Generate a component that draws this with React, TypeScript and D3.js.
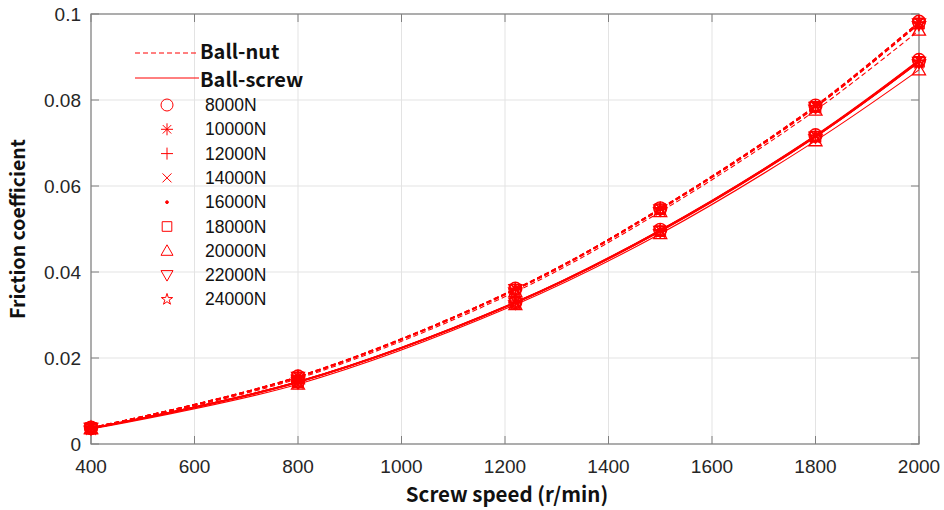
import React from 'react';
import * as d3 from 'd3';

const speeds = [400, 800, 1220, 1500, 1800, 2000];
const loads = ['8000N', '10000N', '12000N', '14000N', '16000N', '18000N', '20000N', '22000N', '24000N'];
const symbolKinds = ['circle', 'asterisk', 'plus', 'cross', 'dot', 'square', 'triangle', 'triangleDown', 'star'];

const nutValues = [
  [0.0038, 0.0157, 0.0361, 0.0548, 0.0787, 0.0982],
  [0.0038, 0.0157, 0.0361, 0.0548, 0.0787, 0.0981],
  [0.0038, 0.0156, 0.0360, 0.0547, 0.0786, 0.0980],
  [0.0038, 0.0156, 0.0360, 0.0547, 0.0785, 0.0980],
  [0.0037, 0.0156, 0.0360, 0.0546, 0.0785, 0.0979],
  [0.0037, 0.0155, 0.0359, 0.0546, 0.0784, 0.0978],
  [0.0036, 0.0152, 0.0354, 0.0540, 0.0776, 0.0962],
  [0.0037, 0.0155, 0.0359, 0.0545, 0.0783, 0.0977],
  [0.0037, 0.0155, 0.0358, 0.0545, 0.0783, 0.0977],
];
const screwValues = [
  [0.0037, 0.0145, 0.0330, 0.0498, 0.0718, 0.0893],
  [0.0037, 0.0145, 0.0330, 0.0497, 0.0717, 0.0892],
  [0.0037, 0.0145, 0.0329, 0.0497, 0.0717, 0.0891],
  [0.0037, 0.0144, 0.0329, 0.0496, 0.0716, 0.0891],
  [0.0036, 0.0144, 0.0329, 0.0496, 0.0716, 0.0890],
  [0.0036, 0.0144, 0.0328, 0.0495, 0.0715, 0.0889],
  [0.0035, 0.0139, 0.0324, 0.0489, 0.0705, 0.0870],
  [0.0036, 0.0143, 0.0328, 0.0495, 0.0714, 0.0888],
  [0.0036, 0.0143, 0.0328, 0.0494, 0.0714, 0.0888],
];
const xTicks = [400, 600, 800, 1000, 1200, 1400, 1600, 1800, 2000];
const yTicks = [0, 0.02, 0.04, 0.06, 0.08, 0.1];
const yTickLabels = ['0', '0.02', '0.04', '0.06', '0.08', '0.1'];

const RED = '#ff0000';

function symbolPath(kind: string, s: number): { d: string; fill: boolean } {
  const r = s / 2;
  switch (kind) {
    case 'circle':
      return { d: d3.symbol(d3.symbolCircle, Math.PI * r * r)()!, fill: false };
    case 'asterisk': {
      let d = `M${-r},0L${r},0M0,${-r}L0,${r}`;
      const k = r * 0.707;
      d += `M${-k},${-k}L${k},${k}M${-k},${k}L${k},${-k}`;
      return { d, fill: false };
    }
    case 'plus':
      return { d: `M${-r},0L${r},0M0,${-r}L0,${r}`, fill: false };
    case 'cross': {
      const k = r * 0.75;
      return { d: `M${-k},${-k}L${k},${k}M${-k},${k}L${k},${-k}`, fill: false };
    }
    case 'dot':
      return { d: d3.symbol(d3.symbolCircle, 6)()!, fill: true };
    case 'square': {
      const k = r * 0.8;
      return { d: `M${-k},${-k}H${k}V${k}H${-k}Z`, fill: false };
    }
    case 'triangle':
      return { d: `M0,${-r}L${r},${r * 0.75}L${-r},${r * 0.75}Z`, fill: false };
    case 'triangleDown':
      return { d: `M0,${r}L${r},${-r * 0.75}L${-r},${-r * 0.75}Z`, fill: false };
    case 'star':
      return { d: d3.symbol(d3.symbolStar, r * r * 1.1)()!, fill: false };
  }
  return { d: '', fill: false };
}

export default function App() {
  const W = 944, H = 510;
  const left = 91, right = 919, top = 14, bottom = 444;
  const x = d3.scaleLinear().domain([400, 2000]).range([left, right]);
  const y = d3.scaleLinear().domain([0, 0.1]).range([bottom, top]);
  const line = d3
    .line<number>()
    .x((_, i) => x(speeds[i]))
    .y((v) => y(v))
    .curve(d3.curveCatmullRom);
  const font = 'Arial, "Liberation Sans", Helvetica, sans-serif';
  const boldFont = '"Noto Sans CJK SC", "Noto Sans", sans-serif';

  return (
    <svg width={W} height={H} style={{ position: 'absolute', left: 0, top: 0, background: '#fff' }}>
      <rect x={0} y={0} width={W} height={H} fill="#fff" />
      {/* grid */}
      {xTicks.map((t) => (
        <line key={'gx' + t} x1={x(t)} x2={x(t)} y1={top} y2={bottom} stroke="#e3e3e3" strokeWidth={1} />
      ))}
      {yTicks.map((t) => (
        <line key={'gy' + t} x1={left} x2={right} y1={y(t)} y2={y(t)} stroke="#e3e3e3" strokeWidth={1} />
      ))}
      {/* ticks */}
      {xTicks.map((t) => (
        <g key={'tx' + t}>
          <line x1={x(t)} x2={x(t)} y1={bottom} y2={bottom - 8} stroke="#808080" />
          <line x1={x(t)} x2={x(t)} y1={top} y2={top + 8} stroke="#808080" />
          <text x={x(t)} y={bottom + 29} fontSize={19} textAnchor="middle" fontFamily={font} fill="#262626">
            {t}
          </text>
        </g>
      ))}
      {yTicks.map((t, i) => (
        <g key={'ty' + t}>
          <line x1={left} x2={left + 8} y1={y(t)} y2={y(t)} stroke="#808080" />
          <line x1={right} x2={right - 8} y1={y(t)} y2={y(t)} stroke="#808080" />
          <text x={left - 10} y={y(t) + 7} fontSize={19} textAnchor="end" fontFamily={font} fill="#262626">
            {yTickLabels[i]}
          </text>
        </g>
      ))}
      <rect x={left} y={top} width={right - left} height={bottom - top} fill="none" stroke="#808080" strokeWidth={1.2} />
      {/* lines */}
      {nutValues.map((vals, i) => (
        <path key={'n' + i} d={line(vals)!} fill="none" stroke={RED} strokeWidth={1.1} strokeDasharray="5,3" />
      ))}
      {screwValues.map((vals, i) => (
        <path key={'s' + i} d={line(vals)!} fill="none" stroke={RED} strokeWidth={1.1} />
      ))}
      {/* markers */}
      {[nutValues, screwValues].map((set, si) =>
        set.map((vals, li) => {
          const sp = symbolPath(symbolKinds[li], 13);
          return vals.map((v, k) => (
            <path
              key={`m${si}-${li}-${k}`}
              d={sp.d}
              transform={`translate(${x(speeds[k])},${y(v)})`}
              fill={sp.fill ? RED : 'none'}
              stroke={RED}
              strokeWidth={1.3}
            />
          ));
        })
      )}
      {/* legend */}
      <line x1={135} x2={199} y1={53} y2={53} stroke={RED} strokeWidth={1} strokeDasharray="5,3" />
      <text x={200} y={59} fontSize={20} fontWeight="bold" fontFamily={boldFont} fill="#111">
        Ball-nut
      </text>
      <line x1={135} x2={199} y1={78} y2={78} stroke={RED} strokeWidth={1} />
      <text x={200} y={87} fontSize={20} fontWeight="bold" fontFamily={boldFont} fill="#111">
        Ball-screw
      </text>
      {loads.map((ld, i) => {
        const cy = 105 + i * 24.3;
        const sp = symbolPath(symbolKinds[i], 12);
        return (
          <g key={'lg' + i}>
            <path d={sp.d} transform={`translate(${167},${cy})`} fill={sp.fill ? RED : 'none'} stroke={RED} strokeWidth={1} />
            <text x={205} y={cy + 6} fontSize={17.5} fontFamily={font} fill="#111">
              {ld}
            </text>
          </g>
        );
      })}
      {/* axis titles */}
      <text x={(left + right) / 2 + 2} y={502} fontSize={20.5} fontWeight="bold" textAnchor="middle" fontFamily={boldFont} fill="#111">
        Screw speed (r/min)
      </text>
      <text
        transform={`translate(${25},${(top + bottom) / 2}) rotate(-90)`}
        fontSize={19.5}
        fontWeight="bold"
        textAnchor="middle"
        fontFamily={boldFont}
        fill="#111"
      >
        Friction coefficient
      </text>
    </svg>
  );
}
